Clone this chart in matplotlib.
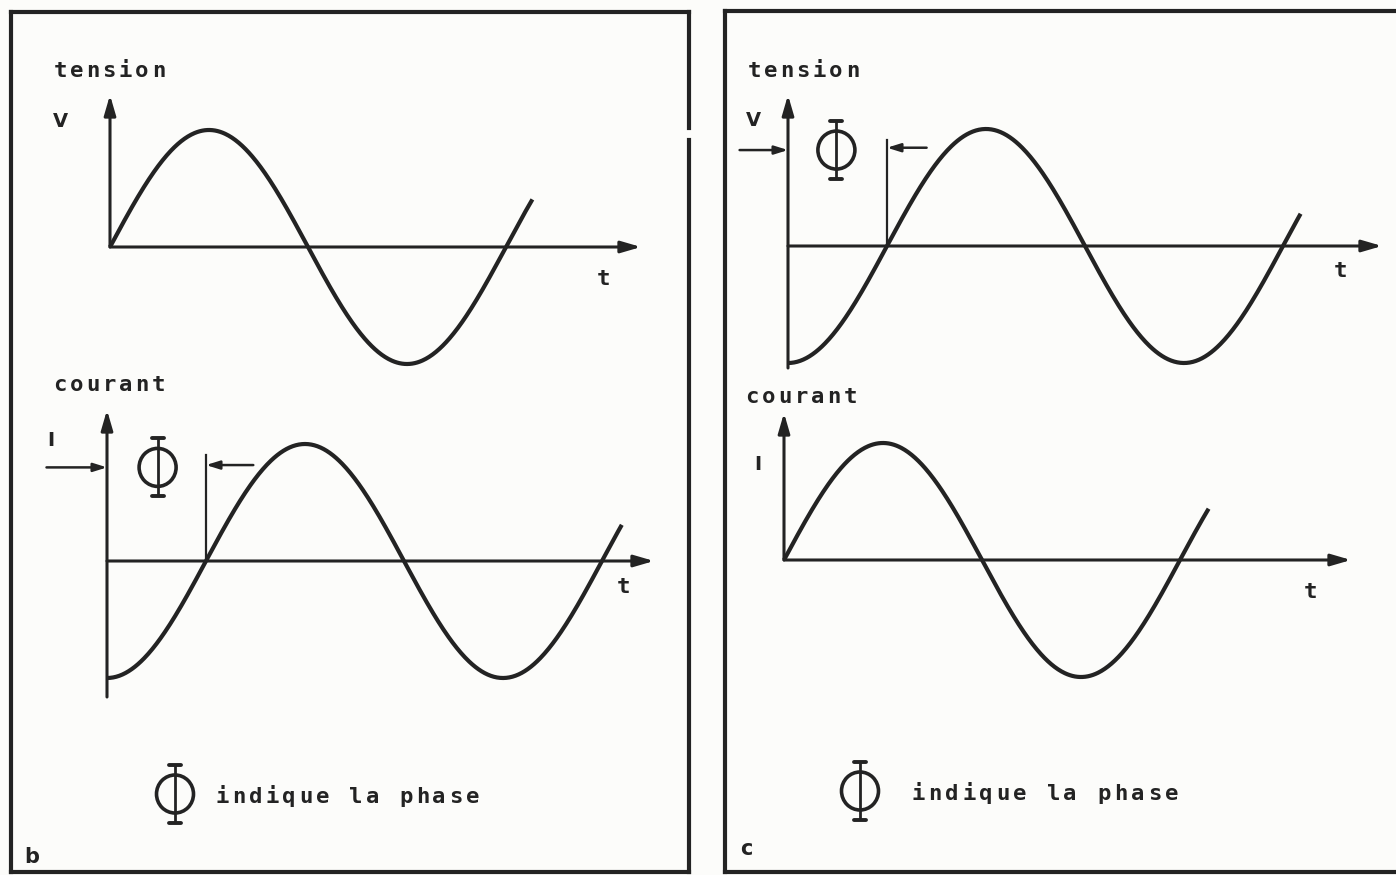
import matplotlib
matplotlib.use("Agg")
import matplotlib.pyplot as plt
import numpy as np
from matplotlib.patches import Ellipse

W, H = 1396, 875
INK = "#232323"
PAPER = "#fcfcfa"
FONT = "DejaVu Sans Mono"

# waveform data (degrees): phase offset of each trace, where the trace stops,
# and the phase shift marked with the Phi arrows (None = no marker)
wave_labels = ["tension", "courant", "tension", "courant"]
wave_symbols = ["V", "I", "V", "I"]
wave_phase = [0, -90, -90, 0]
wave_end = [384, 468, 466, 386]
phase_shift = [None, 90, 90, None]
panel_letters = ["b", "c"]
legend_text = "indique la phase"

# page layout in pixels: origin, tip of t axis, top/bottom of vertical axis
layout = [
    dict(x0=110, y0=247, xend=641, vtop=95, vbot=247,
         label=(60, 77), sym=(60, 127), t=(603, 285)),
    dict(x0=107, y0=561, xend=654, vtop=410, vbot=697,
         label=(60, 391), sym=(51, 446), t=(623, 593),
         marker=dict(left=-55, right=133, y=0.80, top=0.91, phi=(46, 0.80))),
    dict(x0=788, y0=246, xend=1382, vtop=95, vbot=368,
         label=(754, 77), sym=(753, 126), t=(1340, 277),
         marker=dict(left=-44, right=126, y=0.82, top=0.91, phi=(44, 0.82))),
    dict(x0=784, y0=560, xend=1351, vtop=413, vbot=560,
         label=(752, 403), sym=(758, 470), t=(1310, 598)),
]
AMP = 117      # pixels per unit amplitude
KX = 1.1       # pixels per degree
SPAN = 1.7

fig = plt.figure(figsize=(W / 100, H / 100), dpi=100, facecolor=PAPER)
page = fig.add_axes([0, 0, 1, 1])
page.set_xlim(0, W)
page.set_ylim(H, 0)
page.axis("off")


def spaced(ax, x, y, s, pitch, size=16):
    for i, ch in enumerate(s):
        ax.text(x + i * pitch, y, ch, ha="center", va="baseline",
                fontsize=size, fontweight="bold", color=INK, family=FONT)


def draw_phi(ax, cx, cy, sx=1.0, sy=1.0, clip=False):
    # hand-lettered phase sign: oval, vertical stem, small serifs
    ax.add_patch(Ellipse((cx, cy), 37 * sx, 38 * sy, fill=False,
                         ec=INK, lw=2.6, clip_on=clip))
    ax.plot([cx, cx], [cy - 29 * sy, cy + 29 * sy], color=INK, lw=2.0,
            clip_on=clip, solid_capstyle="butt")
    for d in (-29, 29):
        ax.plot([cx - 6 * sx, cx + 6 * sx], [cy + d * sy] * 2, color=INK,
                lw=2.8, clip_on=clip, solid_capstyle="round")


def arrow(ax, start, end, lw=2.2, hl=1.2, hw=0.35):
    ax.annotate("", xy=end, xytext=start, annotation_clip=False,
                arrowprops=dict(arrowstyle=f"-|>,head_length={hl},head_width={hw}",
                                color=INK, lw=lw, shrinkA=0, shrinkB=0,
                                mutation_scale=10))


# frames of the two figures
fk = dict(color=INK, lw=3.0, solid_capstyle="projecting")
page.plot([11, 689], [12, 12], **fk)
page.plot([11, 11], [12, 872], **fk)
page.plot([11, 689], [872, 872], **fk)
page.plot([689, 689], [12, 128], **fk)
page.plot([689, 689], [140, 872], **fk)
page.plot([725, 1400], [11, 11], **fk)
page.plot([725, 725], [11, 872], **fk)
page.plot([725, 1400], [872, 872], **fk)

for i, g in enumerate(layout):
    x0, y0 = g["x0"], g["y0"]
    ax = fig.add_axes([x0 / W, 1 - (y0 + SPAN * AMP) / H,
                       (g["xend"] - x0) / W, 2 * SPAN * AMP / H])
    ax.patch.set_alpha(0)
    ax.axis("off")
    tmax = (g["xend"] - x0) / KX
    ax.set_xlim(0, tmax)
    ax.set_ylim(-SPAN, SPAN)

    # axes with arrow heads
    vtop = (y0 - g["vtop"]) / AMP
    vbot = (y0 - g["vbot"]) / AMP
    arrow(ax, (0, 0), (tmax, 0))
    arrow(ax, (0, vbot), (0, vtop))

    # waveform
    t = np.linspace(0, wave_end[i], 500)
    v = np.sin(np.radians(t + wave_phase[i]))
    ax.plot(t, v, color=INK, lw=3.0, solid_capstyle="butt", clip_on=False)

    # phase shift marker
    if phase_shift[i] is not None:
        m = g["marker"]
        s = phase_shift[i]
        arrow(ax, (m["left"], m["y"]), (0, m["y"]), lw=1.8, hl=0.8, hw=0.25)
        ax.plot([s, s], [0, m["top"]], color=INK, lw=1.6, clip_on=False)
        arrow(ax, (m["right"], m["y"] + 0.02), (s, m["y"] + 0.02),
              lw=1.8, hl=0.8, hw=0.25)
        draw_phi(ax, m["phi"][0], m["phi"][1], sx=1 / KX, sy=1 / AMP)

    # labels
    spaced(page, g["label"][0], g["label"][1], wave_labels[i], 16.4)
    page.text(g["sym"][0], g["sym"][1], wave_symbols[i], ha="center",
              va="baseline", fontsize=14, fontweight="bold", color=INK,
              family="DejaVu Sans")
    page.text(g["t"][0], g["t"][1], "t", ha="center", va="baseline",
              fontsize=16, fontweight="bold", color=INK, family=FONT)

# legend lines at the bottom of each figure
draw_phi(page, 175, 794)
spaced(page, 222, 803, legend_text, 16.7)
draw_phi(page, 860, 791)
spaced(page, 918, 800, legend_text, 16.9)

page.text(32, 863, panel_letters[0], ha="center", va="baseline",
          fontsize=15, fontweight="bold", color=INK, family="DejaVu Sans")
page.text(746, 855, panel_letters[1], ha="center", va="baseline",
          fontsize=15, fontweight="bold", color=INK, family="DejaVu Sans")

fig.savefig("out.png", dpi=100, facecolor=fig.get_facecolor())
